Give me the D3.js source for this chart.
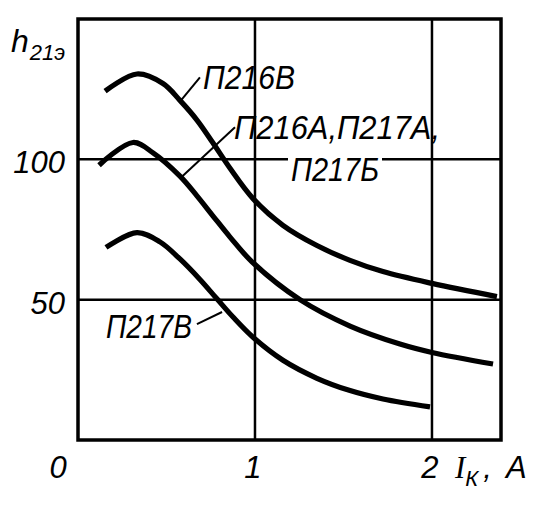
<!DOCTYPE html>
<html><head><meta charset="utf-8">
<script src="https://cdn.jsdelivr.net/npm/d3@7"></script>
<style>body{margin:0;background:#fff}svg{display:block}</style>
</head><body>
<svg id="c" width="554" height="507"></svg>
<script>
// Data (Ik in A, h21э)
const xTicks = [0, 1, 2];
const yTicks = [50, 100];
const seriesNames = ["П216В", "П216А,П217А,П217Б", "П217В"];
const topX = [0.153,0.333,0.48,0.576,0.672,0.763,0.859,0.989,1.158,1.35,1.537,1.723,2.0,2.367];
const topY = [124.3,130.4,127.0,121.0,114.0,105.8,96.8,86.0,76.5,69.3,64.0,60.0,55.8,51.1];
const midX = [0.119,0.311,0.424,0.576,0.672,0.763,0.859,0.983,1.254,1.537,1.819,2.0,2.345];
const midY = [97.9,106,102.3,94,87,79.8,72.3,63.5,50.0,40.6,34.2,31.2,27.1];
const lowX = [0.158,0.333,0.463,0.576,0.689,0.785,0.876,0.989,1.158,1.35,1.537,1.723,1.989];
const lowY = [68.6,73.9,70.6,64.5,57.2,50.3,43.8,36.6,28.4,22.0,17.6,14.6,11.8];

const svg = d3.select("#c");
const x = d3.scaleLinear().domain([0, 2.39]).range([78, 501]);
const y = d3.scaleLinear().domain([0, 150]).range([440, 19]);
const font = "'Liberation Sans', Arial, sans-serif";

// grid
svg.append("g").selectAll("line").data([1,2]).join("line")
  .attr("x1", d => x(d)).attr("x2", d => x(d)).attr("y1", y(150)).attr("y2", y(0))
  .attr("stroke", "#000").attr("stroke-width", 2.5);
svg.append("g").selectAll("line").data(yTicks).join("line")
  .attr("x1", x(0)).attr("x2", x(2.39)).attr("y1", d => y(d)).attr("y2", d => y(d))
  .attr("stroke", "#000").attr("stroke-width", 2.5);

// frame
svg.append("rect").attr("x", x(0)).attr("y", y(150)).attr("width", x(2.39) - x(0)).attr("height", y(0) - y(150))
  .attr("fill", "none").attr("stroke", "#000").attr("stroke-width", 3.5);

// curves
const line = d3.line().x(d => x(d[0])).y(d => y(d[1])).curve(d3.curveCatmullRom.alpha(0.5));
[[topX, topY], [midX, midY], [lowX, lowY]].forEach(([xs, ys]) => {
  svg.append("path").datum(xs.map((v, i) => [v, ys[i]])).attr("d", line)
    .attr("fill", "none").attr("stroke", "#000").attr("stroke-width", 5.2);
});

// leader lines (data units)
const leaders = [[[0.576,120.6],[0.689,129.2]], [[0.576,93.2],[0.887,111.4]], [[0.672,41.3],[0.814,45.6]]];
svg.append("g").selectAll("line").data(leaders).join("line")
  .attr("x1", d => x(d[0][0])).attr("y1", d => y(d[0][1]))
  .attr("x2", d => x(d[1][0])).attr("y2", d => y(d[1][1]))
  .attr("stroke", "#000").attr("stroke-width", 2);

function label(txt, px, py, w, size, bg) {
  if (bg) svg.append("rect").attr("x", px - 3).attr("y", py - size * 0.9).attr("width", w + 6).attr("height", size * 0.95).attr("fill", "#fff");
  svg.append("text").attr("x", px).attr("y", py).text(txt)
    .attr("font-family", font).attr("font-style", "italic").attr("font-size", size)
    .attr("textLength", w).attr("lengthAdjust", "spacingAndGlyphs").attr("fill", "#000");
}
label(seriesNames[0], 203, 89, 92, 34, false);
label("П216А,П217А,", 234, 139, 206, 34, false);
label("П217Б", 291, 181, 88, 34, true);
label(seriesNames[2], 106, 338, 86, 34, false);

// tick labels
svg.append("g").selectAll("text").data(yTicks).join("text")
  .attr("x", 65).attr("y", d => y(d) + 14).attr("text-anchor", "end").text(d => d)
  .attr("font-family", font).attr("font-style", "italic").attr("font-size", 31);
svg.append("g").selectAll("text").data(xTicks).join("text")
  .attr("x", d => d === 0 ? 58 : x(d) - 2).attr("y", 478).attr("text-anchor", "middle").text(d => d)
  .attr("font-family", font).attr("font-style", "italic").attr("font-size", 31);

// axis titles
const yt = svg.append("text").attr("x", 11).attr("y", 52).attr("font-family", font).attr("font-style", "italic");
yt.append("tspan").attr("font-size", 32).text("h");
yt.append("tspan").attr("font-size", 22).attr("dy", 8).attr("dx", 1).text("21э");

const xt = svg.append("text").attr("x", 455).attr("y", 478).attr("font-family", "'Liberation Serif', serif").attr("font-style", "italic");
xt.append("tspan").attr("font-size", 31).text("I");
xt.append("tspan").attr("font-size", 22).attr("dy", 8).attr("font-family", font).text("К");
xt.append("tspan").attr("font-size", 31).attr("dy", -8).attr("dx", 5).attr("font-family", font).text(",");
xt.append("tspan").attr("font-size", 31).attr("dx", 14).attr("font-family", font).text("A");
</script>
</body></html>
